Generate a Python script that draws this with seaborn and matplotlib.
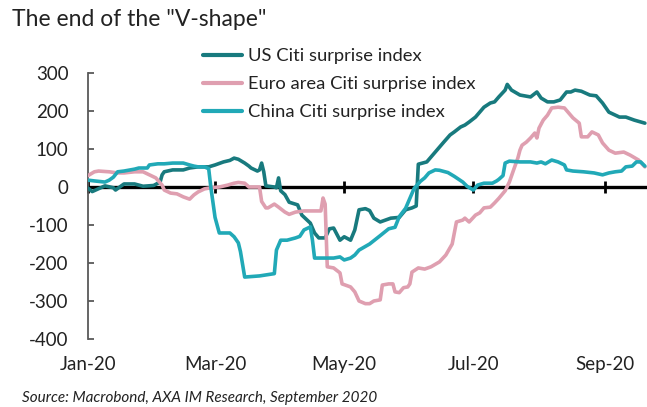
import matplotlib
matplotlib.use("Agg")
import matplotlib.pyplot as plt
import matplotlib.dates as mdates
import pandas as pd
import seaborn as sns

# Citi economic surprise indices, 2020
us_dates = ["2020-01-01", "2020-01-03", "2020-01-09", "2020-01-13", "2020-01-14", "2020-01-18",
            "2020-01-23", "2020-01-27", "2020-02-01", "2020-02-03", "2020-02-04", "2020-02-05",
            "2020-02-06", "2020-02-10", "2020-02-15", "2020-02-18", "2020-02-22", "2020-02-27",
            "2020-03-01", "2020-03-05", "2020-03-08", "2020-03-10", "2020-03-12", "2020-03-15",
            "2020-03-17", "2020-03-18", "2020-03-21", "2020-03-22", "2020-03-23", "2020-03-24",
            "2020-03-25", "2020-03-29", "2020-03-30", "2020-03-31", "2020-04-01", "2020-04-03",
            "2020-04-05", "2020-04-09", "2020-04-11", "2020-04-15", "2020-04-17", "2020-04-19",
            "2020-04-22", "2020-04-24", "2020-04-26", "2020-04-29", "2020-05-01", "2020-05-04",
            "2020-05-06", "2020-05-08", "2020-05-11", "2020-05-13", "2020-05-15", "2020-05-18",
            "2020-05-20", "2020-05-23", "2020-05-27", "2020-05-30", "2020-06-02", "2020-06-04",
            "2020-06-05", "2020-06-09", "2020-06-11", "2020-06-15", "2020-06-17", "2020-06-20",
            "2020-06-22", "2020-06-25", "2020-06-27", "2020-06-29", "2020-07-02", "2020-07-04",
            "2020-07-06", "2020-07-09", "2020-07-11", "2020-07-13", "2020-07-16", "2020-07-17",
            "2020-07-19", "2020-07-23", "2020-07-28", "2020-07-31", "2020-08-02", "2020-08-05",
            "2020-08-08", "2020-08-11", "2020-08-14", "2020-08-16", "2020-08-18", "2020-08-21",
            "2020-08-25", "2020-08-28", "2020-08-31", "2020-09-03", "2020-09-08", "2020-09-11",
            "2020-09-15", "2020-09-20"]
us_values = [-3, -12, 3, -2, -8, 8,
             8, 2, 4, 10, 12, 32,
             40, 45, 45, 50, 53, 53,
             58, 66, 70, 76, 73, 63,
             55, 50, 42, 45, 63, 40,
             3, 0, -2, 24, -10, -20,
             -40, -47, -74, -95, -121, -134,
             -134, -110, -108, -140, -131, -140,
             -113, -60, -57, -62, -82, -92,
             -88, -82, -80, -60, -55, -50,
             60, 66, 79, 105, 118, 137,
             145, 158, 163, 171, 184, 197,
             210, 221, 224, 237, 255, 270,
             255, 242, 237, 250, 234, 224,
             224, 229, 250, 250, 255, 252,
             242, 240, 221, 197, 184, 184,
             176, 168]

ea_dates = ["2020-01-01", "2020-01-04", "2020-01-06", "2020-01-11", "2020-01-15", "2020-01-18",
            "2020-01-23", "2020-01-27", "2020-01-30", "2020-02-02", "2020-02-05", "2020-02-06",
            "2020-02-09", "2020-02-12", "2020-02-15", "2020-02-18", "2020-02-20", "2020-02-22",
            "2020-02-25", "2020-02-28", "2020-03-03", "2020-03-07", "2020-03-10", "2020-03-12",
            "2020-03-15", "2020-03-17", "2020-03-22", "2020-03-23", "2020-03-25", "2020-03-26",
            "2020-03-29", "2020-03-31", "2020-04-03", "2020-04-05", "2020-04-08", "2020-04-12",
            "2020-04-17", "2020-04-20", "2020-04-21", "2020-04-22", "2020-04-23", "2020-04-26",
            "2020-04-29", "2020-04-30", "2020-05-04", "2020-05-06", "2020-05-08", "2020-05-11",
            "2020-05-13", "2020-05-15", "2020-05-18", "2020-05-19", "2020-05-22", "2020-05-24",
            "2020-05-25", "2020-05-27", "2020-05-29", "2020-05-31", "2020-06-01", "2020-06-02",
            "2020-06-05", "2020-06-08", "2020-06-11", "2020-06-15", "2020-06-18", "2020-06-21",
            "2020-06-23", "2020-06-26", "2020-06-27", "2020-06-29", "2020-07-02", "2020-07-04",
            "2020-07-06", "2020-07-09", "2020-07-11", "2020-07-13", "2020-07-16", "2020-07-18",
            "2020-07-20", "2020-07-22", "2020-07-23", "2020-07-24", "2020-07-26", "2020-07-28",
            "2020-07-30", "2020-07-31", "2020-08-01", "2020-08-03", "2020-08-05", "2020-08-07",
            "2020-08-10", "2020-08-13", "2020-08-15", "2020-08-17", "2020-08-20", "2020-08-21",
            "2020-08-24", "2020-08-26", "2020-08-29", "2020-08-31", "2020-09-03", "2020-09-06",
            "2020-09-10", "2020-09-13", "2020-09-17", "2020-09-20"]
ea_values = [30, 40, 42, 40, 37, 37,
             40, 40, 32, 24, 5, -8,
             -16, -18, -26, -32, -21, -13,
             -5, -2, 0, 5, 10, 12,
             10, 0, 0, -38, -55, -55,
             -45, -53, -66, -72, -66, -63,
             -63, -63, -29, -45, -210, -213,
             -226, -255, -263, -276, -300, -307,
             -307, -300, -297, -258, -255, -255,
             -276, -278, -265, -263, -255, -224,
             -213, -216, -210, -197, -179, -150,
             -92, -87, -82, -92, -74, -68,
             -55, -53, -42, -30, -10, 13,
             45, 76, 97, 110, 118, 129,
             142, 129, 155, 176, 189, 208,
             210, 208, 195, 182, 168, 132,
             132, 145, 137, 116, 97, 89,
             92, 84, 71, 53]

cn_dates = ["2020-01-01", "2020-01-04", "2020-01-09", "2020-01-11", "2020-01-13", "2020-01-15",
            "2020-01-18", "2020-01-23", "2020-01-25", "2020-01-29", "2020-01-30", "2020-02-03",
            "2020-02-06", "2020-02-10", "2020-02-15", "2020-02-18", "2020-02-20", "2020-02-22",
            "2020-02-25", "2020-02-27", "2020-02-28", "2020-03-01", "2020-03-03", "2020-03-08",
            "2020-03-10", "2020-03-12", "2020-03-13", "2020-03-15", "2020-03-22", "2020-03-29",
            "2020-03-30", "2020-04-01", "2020-04-04", "2020-04-08", "2020-04-10", "2020-04-12",
            "2020-04-15", "2020-04-16", "2020-04-17", "2020-04-22", "2020-04-26", "2020-04-29",
            "2020-05-01", "2020-05-04", "2020-05-06", "2020-05-08", "2020-05-13", "2020-05-18",
            "2020-05-22", "2020-05-25", "2020-05-27", "2020-05-30", "2020-06-01", "2020-06-03",
            "2020-06-06", "2020-06-08", "2020-06-10", "2020-06-13", "2020-06-15", "2020-06-19",
            "2020-06-22", "2020-06-26", "2020-06-28", "2020-07-01", "2020-07-03", "2020-07-06",
            "2020-07-10", "2020-07-12", "2020-07-13", "2020-07-15", "2020-07-16", "2020-07-18",
            "2020-07-23", "2020-07-28", "2020-07-31", "2020-08-02", "2020-08-04", "2020-08-07",
            "2020-08-10", "2020-08-13", "2020-08-14", "2020-08-17", "2020-08-22", "2020-08-27",
            "2020-08-31", "2020-09-03", "2020-09-06", "2020-09-09", "2020-09-11", "2020-09-14",
            "2020-09-16", "2020-09-18", "2020-09-20"]
cn_values = [18, 16, 13, 18, 26, 40,
             42, 47, 50, 50, 58, 61,
             61, 63, 63, 58, 55, 53,
             53, 48, 0, -80, -121, -121,
             -131, -147, -170, -237, -234, -228,
             -166, -140, -140, -134, -130, -113,
             -105, -140, -187, -187, -187, -184,
             -192, -187, -179, -166, -150, -128,
             -110, -106, -78, -56, -30, -4,
             15, 24, 37, 45, 44, 38,
             28, 13, 2, -8, 5, 10,
             10, 16, 20, 30, 63, 68,
             66, 66, 63, 66, 61, 71,
             66, 58, 45, 42, 40, 37,
             32, 37, 40, 42, 53, 55,
             66, 66, 55]

series_names = ["US Citi surprise index",
                "Euro area Citi surprise index",
                "China Citi surprise index"]
series_colors = ["#187a7e", "#df9fb0", "#21a9b7"]

month_ticks = ["2020-01-01", "2020-03-01", "2020-05-01", "2020-07-01", "2020-09-01"]
y_ticks = [-400, -300, -200, -100, 0, 100, 200, 300]

title_text = 'The end of the "V-shape"'
source_text = "Source: Macrobond, AXA IM Research, September 2020"

frames = []
for name, d, v in zip(series_names, [us_dates, ea_dates, cn_dates],
                      [us_values, ea_values, cn_values]):
    frames.append(pd.DataFrame({"date": pd.to_datetime(d), "value": v, "series": name}))
df = pd.concat(frames, ignore_index=True)

sns.set_theme(style="white")
plt.rcParams["font.family"] = ["Lato", "DejaVu Sans"]

fig = plt.figure(figsize=(6.47, 4.07), dpi=100)
ax = fig.add_axes([88 / 647, 1 - 339 / 407, 1 - 88 / 647, (339 - 73) / 407])

# zero line with month tick marks
ticks = pd.to_datetime(month_ticks)
ax.axhline(0, color="black", lw=2.4, zorder=1)
ax.plot(ticks, [0] * len(ticks), ls="none", marker="|", markersize=9,
        markeredgewidth=2, color="black", zorder=1, clip_on=False)

sns.lineplot(data=df, x="date", y="value", hue="series", hue_order=series_names,
             palette=series_colors, linewidth=2.6, ax=ax, legend=False, zorder=3,
             estimator=None, sort=True)

ax.set_xlim(pd.Timestamp("2020-01-01"), pd.Timestamp("2020-09-21"))
ax.set_ylim(-400, 300)
ax.set_yticks(y_ticks)
ax.set_yticklabels([str(t) for t in y_ticks])
ax.set_xticks(ticks)
ax.xaxis.set_major_formatter(mdates.DateFormatter("%b-%y"))
ax.set_xlabel("")
ax.set_ylabel("")

for side in ["top", "right", "bottom"]:
    ax.spines[side].set_visible(False)
ax.spines["left"].set_color("#595959")
ax.spines["left"].set_linewidth(1.3)

ax.tick_params(axis="y", direction="in", length=4, width=1.3, color="#595959",
               labelsize=13.5, pad=14, labelcolor="#222222", left=True)
ax.tick_params(axis="x", length=0, labelsize=13.5, pad=12, labelcolor="#222222")

handles = [plt.Line2D([], [], color=c, lw=3) for c in series_colors]
fig.legend(handles, series_names, loc="upper left", bbox_to_anchor=(203 / 647, 1 - 48 / 407),
           frameon=False, fontsize=13.2, handlelength=2.15, handletextpad=0.3,
           labelspacing=0.66, borderpad=0, borderaxespad=0, labelcolor="#222222")

fig.text(12 / 647, 1 - 20 / 407, title_text, fontsize=16.5, va="center", ha="left",
         color="#222222")
fig.text(22 / 647, 1 - 398 / 407, source_text, fontsize=11, style="italic",
         va="center", ha="left", color="#222222")

fig.savefig("out.png", dpi=100)
